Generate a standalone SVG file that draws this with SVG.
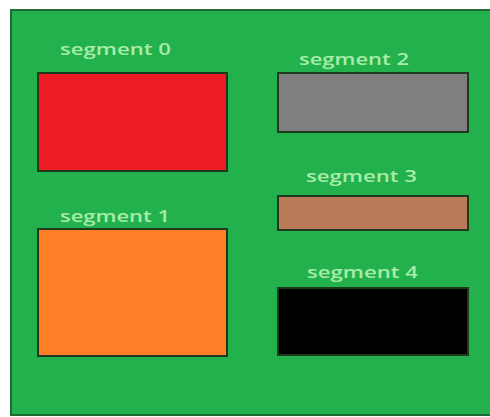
<svg xmlns="http://www.w3.org/2000/svg" width="490" height="417" viewBox="0 0 490 417">
  <style>
    .seg { stroke: #1d3a1d; stroke-width: 2; }
    .lbl { font-family: "Open Sans", "Liberation Sans", sans-serif; font-size: 17px; font-weight: 600; fill: #a9ecaa; }
  </style>
  <rect x="0" y="0" width="490" height="417" fill="#ffffff"/>
  <rect id="background" x="11" y="10" width="482" height="405" fill="#22b14c" stroke="#1f6b34" stroke-width="2"/>
  <g id="segment0">
    <text class="lbl" x="60" y="55" textLength="111" lengthAdjust="spacingAndGlyphs">segment 0</text>
    <rect class="seg" x="38" y="73" width="189" height="98" fill="#ed1c24"/>
  </g>
  <g id="segment1">
    <text class="lbl" x="60" y="222" textLength="110" lengthAdjust="spacingAndGlyphs">segment 1</text>
    <rect class="seg" x="38" y="229" width="189" height="127" fill="#ff7f27"/>
  </g>
  <g id="segment2">
    <text class="lbl" x="299" y="65" textLength="110" lengthAdjust="spacingAndGlyphs">segment 2</text>
    <rect class="seg" x="278" y="73" width="190" height="59" fill="#7f7f7f"/>
  </g>
  <g id="segment3">
    <text class="lbl" x="306" y="182" textLength="111" lengthAdjust="spacingAndGlyphs">segment 3</text>
    <rect class="seg" x="278" y="196" width="190" height="34" fill="#b97a57"/>
  </g>
  <g id="segment4">
    <text class="lbl" x="307" y="278" textLength="111" lengthAdjust="spacingAndGlyphs">segment 4</text>
    <rect class="seg" x="278" y="288" width="190" height="67" fill="#000000"/>
  </g>
  <g id="connectors"/>
</svg>
